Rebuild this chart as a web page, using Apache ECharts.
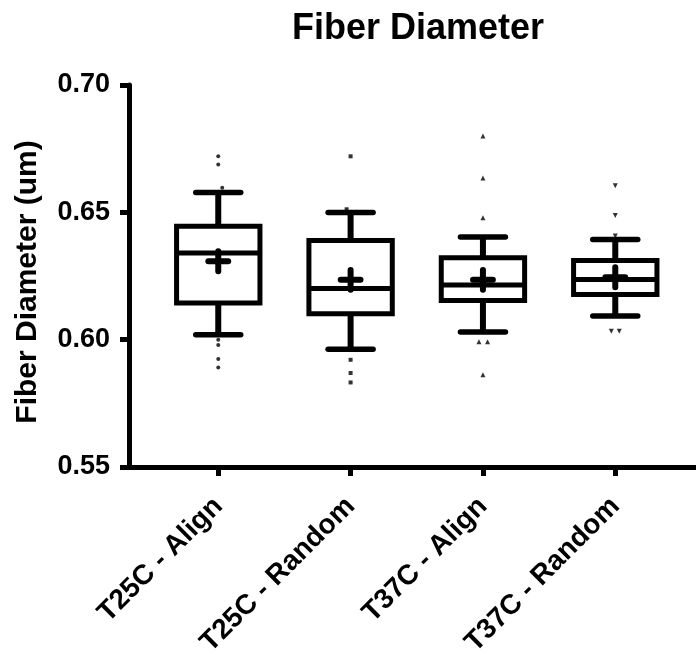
<!DOCTYPE html>
<html>
<head>
<meta charset="utf-8">
<script src="https://cdn.jsdelivr.net/npm/echarts@6/dist/echarts.min.js"></script>
<style>
  html, body { margin: 0; padding: 0; background: #fff; }
  #chart { width: 696px; height: 655px; }
</style>
</head>
<body>
<div id="chart"></div>
<script>
const categories = ['T25C - Align', 'T25C - Random', 'T37C - Align', 'T37C - Random'];

// box statistics per group
const whiskerLow  = [0.6019, 0.5962, 0.6030, 0.6093];
const quartile1   = [0.6144, 0.6102, 0.6154, 0.6177];
const medians     = [0.6340, 0.6201, 0.6215, 0.6236];
const quartile3   = [0.6445, 0.6389, 0.6322, 0.6311];
const whiskerHigh = [0.6578, 0.6499, 0.6403, 0.6393];
const means       = [0.6308, 0.6235, 0.6235, 0.6245];

// points outside the whiskers: [group position, value]
const outliersAlign25  = [[1, 0.6720], [1, 0.6688], [1.03, 0.6597], [1, 0.6000], [1, 0.5979], [1, 0.5924], [1, 0.5891]];
const outliersRandom25 = [[2, 0.6720], [1.97, 0.6512], [2, 0.5921], [2, 0.5869], [2, 0.5832]];
const outliersAlign37  = [[3, 0.6800], [3, 0.6635], [3, 0.6479], [2.97, 0.5992], [3.035, 0.5992], [3, 0.5862]];
const outliersRandom37 = [[4, 0.6604], [4, 0.6488], [4, 0.6407], [3.97, 0.6033], [4.03, 0.6033]];

const yTicks = [0.55, 0.60, 0.65, 0.70];

const font = "'Liberation Sans', Arial, sans-serif";
const boxData = categories.map((c, i) => [i + 1, whiskerLow[i], quartile1[i], medians[i], quartile3[i], whiskerHigh[i], means[i]]);

const renderBox = (params, api) => {
    const x = api.value(0);
    const pLo = api.coord([x, api.value(1)]);
    const pQ1 = api.coord([x, api.value(2)]);
    const pMed = api.coord([x, api.value(3)]);
    const pQ3 = api.coord([x, api.value(4)]);
    const pHi = api.coord([x, api.value(5)]);
    const pMean = api.coord([x, api.value(6)]);
    const unit = api.size([1, 0])[0];
    const hw = unit * 0.315;
    const cw = unit * 0.17;
    const mw = unit * 0.075;
    const style = {stroke: '#000', lineWidth: 5, fill: null, lineCap: 'round'};
    const line = (x1, y1, x2, y2, extra) => ({type: 'line', shape: {x1, y1, x2, y2}, style: {...style, ...extra}});
    const cx = pLo[0];
    return {
        type: 'group',
        children: [
            line(cx, pQ3[1], cx, pHi[1], {lineWidth: 6, lineCap: 'butt'}),
            line(cx, pQ1[1], cx, pLo[1], {lineWidth: 6, lineCap: 'butt'}),
            line(cx - cw, pHi[1], cx + cw, pHi[1], {lineWidth: 5.5}),
            line(cx - cw, pLo[1], cx + cw, pLo[1], {lineWidth: 5.5}),
            {
                type: 'rect',
                shape: {x: cx - hw, y: pQ3[1], width: hw * 2, height: pQ1[1] - pQ3[1]},
                style: {stroke: '#000', lineWidth: 5, fill: 'rgba(0,0,0,0)'},
            },
            line(cx - hw, pMed[1], cx + hw, pMed[1], {lineCap: 'butt'}),
            line(cx - mw, pMean[1], cx + mw, pMean[1], {lineWidth: 6}),
            line(cx, pMean[1] - mw, cx, pMean[1] + mw, {lineWidth: 6}),
        ],
    };
};

const outlierSeries = (data, symbol, size) => ({
    type: 'scatter',
    data,
    symbol,
    symbolSize: size,
    itemStyle: {color: '#000'},
    z: 3,
    silent: true,
});

const chart = echarts.init(document.getElementById('chart'));
chart.setOption({
    animation: false,
    backgroundColor: '#fff',
    title: {
        text: 'Fiber Diameter',
        left: 413,
        top: 6,
        textAlign: 'center',
        textStyle: {fontFamily: font, fontWeight: 'bold', fontSize: 36, color: '#000'},
    },
    grid: {left: 129, right: 0, top: 85, bottom: 188, outerBoundsMode: 'none'},
    xAxis: {
        type: 'value',
        min: 0.3255,
        max: 4.61,
        splitLine: {show: false},
        axisLine: {onZero: false, lineStyle: {color: '#000', width: 5}},
        axisTick: {customValues: [1, 2, 3, 4], length: 9, lineStyle: {color: '#000', width: 5}},
        axisLabel: {
            customValues: [1, 2, 3, 4],
            formatter: v => categories[Math.round(v) - 1],
            rotate: 45,
            margin: 35,
            fontFamily: font,
            fontWeight: 'bold',
            fontSize: 28,
            color: '#000',
        },
    },
    yAxis: {
        type: 'value',
        min: 0.55,
        max: 0.70,
        interval: 0.05,
        name: 'Fiber Diameter (um)',
        nameLocation: 'middle',
        nameGap: 86,
        nameTextStyle: {fontFamily: font, fontWeight: 'bold', fontSize: 30, color: '#000', padding: [0, 12, 0, 0]},
        splitLine: {show: false},
        axisLine: {show: true, onZero: false, lineStyle: {color: '#000', width: 5}},
        axisTick: {show: true, customValues: yTicks, length: 9, lineStyle: {color: '#000', width: 5}},
        axisLabel: {
            customValues: yTicks,
            formatter: v => v.toFixed(2),
            margin: 19,
            fontFamily: font,
            fontWeight: 'bold',
            fontSize: 27,
            color: '#000',
        },
    },
    series: [
        {
            type: 'custom',
            data: boxData,
            renderItem: renderBox,
            encode: {x: 0, y: [1, 2, 3, 4, 5, 6]},
            clip: false,
            silent: true,
            z: 2,
        },
        outlierSeries(outliersAlign25, 'circle', 4),
        outlierSeries(outliersRandom25, 'rect', 4),
        outlierSeries(outliersAlign37, 'triangle', 5),
        outlierSeries(outliersRandom37, 'path://M0,0 L10,0 L5,9 Z', 5),
    ],
});
</script>
</body>
</html>
